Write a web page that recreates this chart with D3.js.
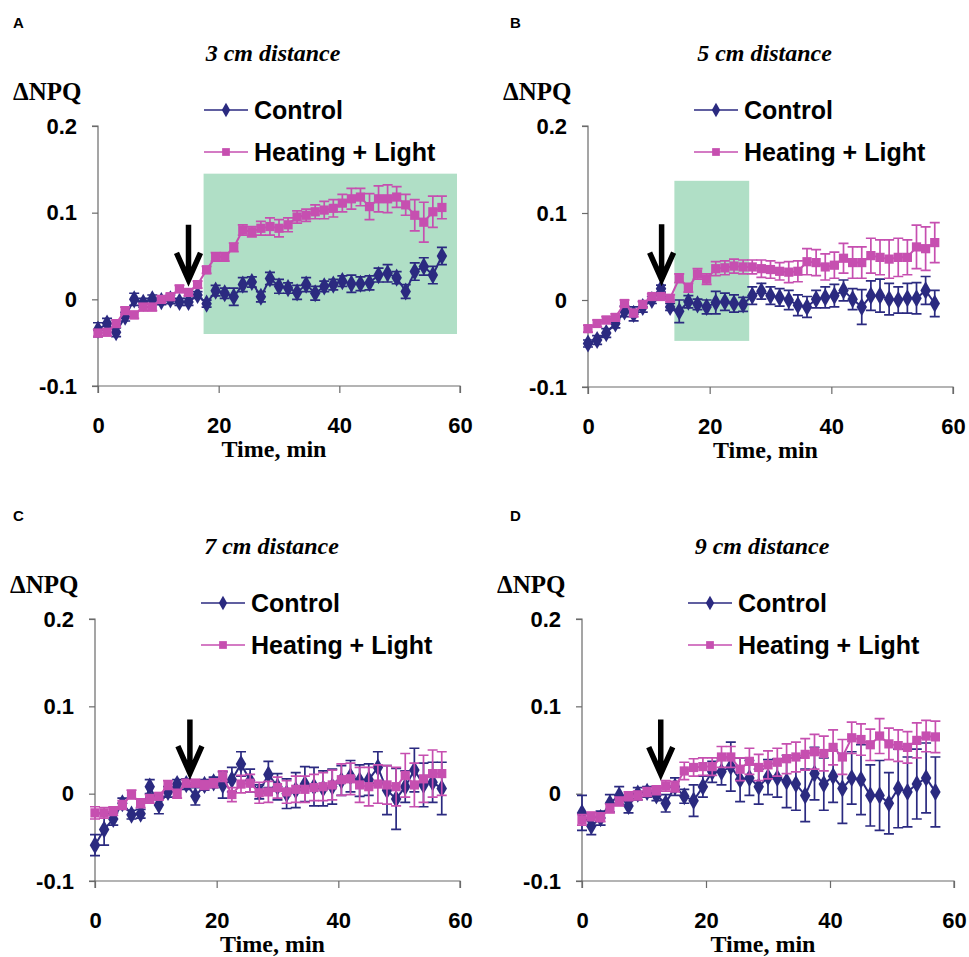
<!DOCTYPE html>
<html><head><meta charset="utf-8">
<script src="https://cdn.jsdelivr.net/npm/d3@7/dist/d3.min.js"></script>
<style>body{margin:0;background:#fff}svg{display:block}</style>
</head><body>
<script>
// ---- data ----
const times = [0,1.5,3,4.5,6,7.5,9,10.5,12,13.5,15,16.5,18,19.5,21,22.5,24,25.5,27,28.5,30,31.5,33,34.5,36,37.5,39,40.5,42,43.5,45,46.5,48,49.5,51,52.5,54,55.5,57];
const yTicks = [0.2, 0.1, 0, -0.1];
const yTickLabels = ["0.2", "0.1", "0", "-0.1"];
const xTicks = [0, 20, 40, 60];
const xTickLabels = ["0", "20", "40", "60"];
const seriesNames = ["Control", "Heating + Light"];
const panelLetters = ["A", "B", "C", "D"];
const panelTitles = ["3 cm distance", "5 cm distance", "7 cm distance", "9 cm distance"];

const controlA = [-0.035,-0.028,-0.038,-0.02,0.0,-0.004,0.0,-0.002,0.0,-0.003,-0.003,0.005,-0.005,0.01,0.007,0.003,0.017,0.02,0.003,0.024,0.015,0.013,0.008,0.017,0.007,0.015,0.017,0.021,0.018,0.018,0.019,0.028,0.03,0.025,0.009,0.032,0.038,0.028,0.05];
const controlAErr = [0.008,0.006,0.005,0.005,0.007,0.005,0.005,0.004,0.005,0.004,0.004,0.004,0.004,0.006,0.006,0.01,0.008,0.006,0.006,0.007,0.008,0.006,0.008,0.008,0.008,0.006,0.006,0.006,0.01,0.008,0.008,0.008,0.01,0.007,0.008,0.01,0.01,0.01,0.01];
const heatA = [-0.039,-0.038,-0.028,-0.013,-0.018,-0.009,-0.009,0.0,0.003,0.012,0.008,0.017,0.034,0.049,0.049,0.06,0.08,0.078,0.082,0.084,0.082,0.086,0.095,0.097,0.101,0.103,0.105,0.111,0.116,0.118,0.107,0.116,0.116,0.118,0.109,0.097,0.089,0.101,0.106];
const heatAErr = [0.004,0.004,0.004,0.004,0.004,0.004,0.004,0.004,0.004,0.004,0.004,0.004,0.004,0.005,0.005,0.005,0.006,0.006,0.008,0.01,0.01,0.008,0.007,0.007,0.008,0.01,0.01,0.01,0.012,0.01,0.015,0.015,0.016,0.012,0.012,0.018,0.023,0.018,0.013];

const controlB = [-0.05,-0.046,-0.038,-0.027,-0.013,-0.016,-0.008,0.0,0.013,-0.008,-0.013,-0.002,-0.005,-0.008,-0.003,-0.002,-0.004,-0.005,0.005,0.01,0.005,0.003,0.0,-0.006,-0.008,0.001,0.003,0.005,0.011,0.001,-0.008,0.005,0.005,0.001,0.0,0.002,0.002,0.011,-0.004];
const controlBErr = [0.004,0.005,0.005,0.005,0.006,0.008,0.006,0.004,0.004,0.004,0.013,0.007,0.006,0.008,0.013,0.01,0.01,0.008,0.01,0.009,0.01,0.01,0.011,0.012,0.012,0.01,0.012,0.013,0.012,0.012,0.02,0.017,0.019,0.018,0.015,0.017,0.018,0.016,0.015];
const heatB = [-0.033,-0.027,-0.023,-0.02,-0.004,-0.015,-0.005,0.004,0.004,0.002,0.025,0.014,0.03,0.024,0.036,0.037,0.039,0.038,0.038,0.036,0.035,0.033,0.032,0.033,0.044,0.043,0.038,0.04,0.048,0.043,0.043,0.051,0.049,0.047,0.049,0.049,0.061,0.059,0.066];
const heatBErr = [0.004,0.004,0.004,0.004,0.004,0.004,0.004,0.003,0.003,0.004,0.005,0.005,0.006,0.006,0.008,0.008,0.008,0.008,0.008,0.01,0.01,0.01,0.012,0.012,0.015,0.015,0.015,0.015,0.017,0.018,0.018,0.02,0.02,0.022,0.022,0.02,0.025,0.025,0.023];

const controlC = [-0.059,-0.041,-0.029,-0.011,-0.024,-0.023,0.008,-0.013,0.002,0.011,0.011,-0.003,0.01,0.013,0.01,0.016,0.034,0.015,0.002,0.022,0.008,0.0,0.004,0.011,0.008,0.006,0.008,0.015,0.02,0.015,0.016,0.03,0.004,-0.006,0.008,0.027,0.01,0.013,0.006];
const controlCErr = [0.012,0.018,0.007,0.006,0.005,0.005,0.008,0.01,0.006,0.005,0.006,0.01,0.006,0.006,0.015,0.014,0.014,0.013,0.008,0.015,0.015,0.017,0.02,0.02,0.022,0.02,0.02,0.017,0.018,0.018,0.018,0.018,0.028,0.035,0.018,0.025,0.025,0.023,0.03];
const heatC = [-0.022,-0.022,-0.02,-0.013,-0.001,-0.011,-0.006,-0.003,0.01,0.0,0.012,0.012,0.01,0.012,0.02,-0.001,0.011,0.012,0.001,0.002,0.007,0.002,0.005,0.005,0.007,0.008,0.01,0.016,0.017,0.01,0.008,0.011,0.01,0.008,0.021,0.01,0.017,0.023,0.023];
const heatCErr = [0.007,0.006,0.005,0.005,0.005,0.005,0.005,0.004,0.005,0.005,0.004,0.004,0.005,0.005,0.006,0.008,0.01,0.01,0.012,0.012,0.012,0.013,0.015,0.015,0.015,0.016,0.017,0.018,0.018,0.02,0.022,0.022,0.022,0.022,0.025,0.025,0.027,0.027,0.025];

const controlD = [-0.022,-0.037,-0.028,-0.011,-0.002,-0.014,0.0,0.002,-0.002,-0.011,0.008,-0.003,-0.008,0.008,0.025,0.025,0.031,0.016,0.018,0.008,0.019,0.018,0.014,0.011,-0.002,0.023,0.011,0.02,0.006,0.018,0.016,-0.002,-0.002,-0.011,0.006,0.002,0.011,0.018,0.002];
const controlDErr = [0.02,0.01,0.008,0.01,0.01,0.008,0.007,0.006,0.006,0.01,0.01,0.008,0.018,0.012,0.012,0.015,0.028,0.025,0.02,0.02,0.02,0.022,0.03,0.03,0.03,0.03,0.03,0.03,0.04,0.03,0.04,0.035,0.04,0.035,0.045,0.04,0.04,0.04,0.04];
const heatD = [-0.03,-0.026,-0.027,-0.017,-0.009,-0.003,-0.002,0.002,0.004,0.009,0.008,0.026,0.03,0.031,0.031,0.042,0.042,0.028,0.037,0.03,0.033,0.036,0.04,0.042,0.045,0.048,0.046,0.053,0.042,0.064,0.062,0.056,0.066,0.057,0.055,0.053,0.061,0.066,0.065];
const heatDErr = [0.006,0.005,0.005,0.005,0.005,0.005,0.005,0.005,0.005,0.006,0.006,0.01,0.01,0.01,0.01,0.012,0.012,0.013,0.015,0.015,0.016,0.016,0.017,0.017,0.018,0.02,0.02,0.02,0.02,0.018,0.018,0.018,0.02,0.018,0.018,0.018,0.02,0.018,0.018];

// shaded regions [xStart, xEnd, yLow, yHigh] (null = none)
const shadeA = [17.5, 59.5, -0.04, 0.145];
const shadeB = [14.2, 26.5, -0.047, 0.137];
// arrows [time, topValue, tipValue]
const arrowA = [15, 0.086, 0.019];
const arrowB = [12.1, 0.087, 0.020];
const arrowC = [15.6, 0.085, 0.020];
const arrowD = [12.7, 0.085, 0.019];

// ---- layout ----
const layout = [
  {x0: 98, x1: 460, yT: 126, yB: 386, letterX: 13},
  {x0: 588, x1: 953, yT: 126, yB: 387, letterX: 510},
  {x0: 95, x1: 460, yT: 619, yB: 881, letterX: 13},
  {x0: 582, x1: 954, yT: 619, yB: 881, letterX: 510}
];
const panels = [
  {ctrl: controlA, ctrlErr: controlAErr, heat: heatA, heatErr: heatAErr, shade: shadeA, arrow: arrowA},
  {ctrl: controlB, ctrlErr: controlBErr, heat: heatB, heatErr: heatBErr, shade: shadeB, arrow: arrowB},
  {ctrl: controlC, ctrlErr: controlCErr, heat: heatC, heatErr: heatCErr, shade: null, arrow: arrowC},
  {ctrl: controlD, ctrlErr: controlDErr, heat: heatD, heatErr: heatDErr, shade: null, arrow: arrowD}
];

const BLUE = "#2b2a80", PINK = "#c64fb0", GREEN = "#b0dfc6", AXIS = "#6a6a6a";
const SANS = "'Liberation Sans', Arial, sans-serif";
const SERIF = "'Liberation Serif', 'Times New Roman', serif";

const svg = d3.select("body").append("svg").attr("width", 969).attr("height", 957);

const diamond = d3.symbol().type(d3.symbolDiamond).size(95)();
const square = d3.symbol().type(d3.symbolSquare).size(85)();
const diamondLeg = d3.symbol().type(d3.symbolDiamond).size(60)();
const squareLeg = d3.symbol().type(d3.symbolSquare).size(60)();

panels.forEach((p, i) => {
  const L = layout[i];
  const x = d3.scaleLinear().domain([0, 60]).range([L.x0, L.x1]);
  const y = d3.scaleLinear().domain([-0.1, 0.2]).range([L.yB, L.yT]);
  const g = svg.append("g");
  const cx = (L.x0 + L.x1) / 2 - 6;

  // panel letter
  g.append("text").attr("x", L.letterX).attr("y", L.yT - 98)
    .attr("font-family", SANS).attr("font-weight", "bold").attr("font-size", 15)
    .text(panelLetters[i]);
  // title
  g.append("text").attr("x", cx).attr("y", L.yT - 65).attr("text-anchor", "middle")
    .attr("font-family", SERIF).attr("font-weight", "bold").attr("font-style", "italic")
    .attr("font-size", 24).text(panelTitles[i]);
  // y label
  g.append("text").attr("x", L.x0 - 85).attr("y", L.yT - 26)
    .attr("font-family", SERIF).attr("font-weight", "bold").attr("font-size", 25)
    .text("ΔNPQ");

  // shade
  if (p.shade) {
    g.append("rect").attr("x", x(p.shade[0])).attr("y", y(p.shade[3]))
      .attr("width", x(p.shade[1]) - x(p.shade[0]))
      .attr("height", y(p.shade[2]) - y(p.shade[3]))
      .attr("fill", GREEN);
  }

  // axes
  const yAxis = d3.axisLeft(y).tickValues(yTicks).tickFormat((d, k) => yTickLabels[k]).tickSize(6).tickPadding(15);
  const ya = g.append("g").attr("transform", `translate(${L.x0},0)`).call(yAxis);
  const xAxis = d3.axisBottom(x).tickValues(xTicks).tickFormat((d, k) => xTickLabels[k]).tickSize(7).tickPadding(24);
  const xa = g.append("g").attr("transform", `translate(0,${L.yB})`).call(xAxis);
  [ya, xa].forEach(a => {
    a.select(".domain").attr("stroke", AXIS).attr("stroke-width", 1.2);
    a.selectAll(".tick line").attr("stroke", AXIS).attr("stroke-width", 1.2);
    a.selectAll("text").attr("font-family", SANS).attr("font-weight", "bold")
      .attr("font-size", 22).attr("fill", "#000");
  });
  ya.select(".domain").attr("d", `M-6,${L.yT}H0V${L.yB}H-6`);
  xa.select(".domain").attr("d", `M${L.x0},7V0H${L.x1}V7`);
  g.append("text").attr("x", cx + 1).attr("y", L.yB + 71).attr("text-anchor", "middle")
    .attr("font-family", SERIF).attr("font-weight", "bold").attr("font-size", 24)
    .text("Time, min");

  // series
  const drawSeries = (vals, errs, color, sym) => {
    const sg = g.append("g");
    const data = times.map((t, k) => ({t, v: vals[k], e: errs[k]}));
    sg.selectAll("path.eb").data(data).join("path").attr("class", "eb")
      .attr("d", d => {
        const xx = x(d.t), y1 = y(d.v + d.e), y2 = y(d.v - d.e);
        return `M${xx},${y1}V${y2}M${xx-5},${y1}H${xx+5}M${xx-5},${y2}H${xx+5}`;
      })
      .attr("stroke", color).attr("stroke-width", 1.7).attr("fill", "none");
    sg.append("path").datum(data)
      .attr("d", d3.line().x(d => x(d.t)).y(d => y(d.v)))
      .attr("stroke", color).attr("stroke-width", 2).attr("fill", "none");
    sg.selectAll("path.mk").data(data).join("path").attr("class", "mk")
      .attr("d", sym).attr("transform", d => `translate(${x(d.t)},${y(d.v)})`)
      .attr("fill", color);
  };
  drawSeries(p.ctrl, p.ctrlErr, BLUE, diamond);
  drawSeries(p.heat, p.heatErr, PINK, square);

  // arrow
  const ax = x(p.arrow[0]), at = y(p.arrow[1]), ab = y(p.arrow[2]);
  g.append("path")
    .attr("d", `M${ax},${at}V${ab - 4}M${ax - 12},${ab - 30}L${ax},${ab - 3}L${ax + 12},${ab - 30}`)
    .attr("stroke", "#000").attr("stroke-width", 5.5).attr("fill", "none")
    .attr("stroke-linejoin", "miter");

  // legend
  const lx0 = L.x0 + 106, lx1 = L.x0 + 150;
  const legendRows = [
    {name: seriesNames[0], color: BLUE, sym: diamondLeg, yy: L.yT - 16},
    {name: seriesNames[1], color: PINK, sym: squareLeg, yy: L.yT + 26}
  ];
  legendRows.forEach(r => {
    g.append("line").attr("x1", lx0).attr("x2", lx1).attr("y1", r.yy).attr("y2", r.yy)
      .attr("stroke", r.color).attr("stroke-width", 1.6);
    g.append("path").attr("d", r.sym).attr("transform", `translate(${(lx0 + lx1) / 2},${r.yy})`)
      .attr("fill", r.color);
    g.append("text").attr("x", lx1 + 6).attr("y", r.yy + 9)
      .attr("font-family", SANS).attr("font-weight", "bold").attr("font-size", 25)
      .text(r.name);
  });
});
</script>
</body></html>
